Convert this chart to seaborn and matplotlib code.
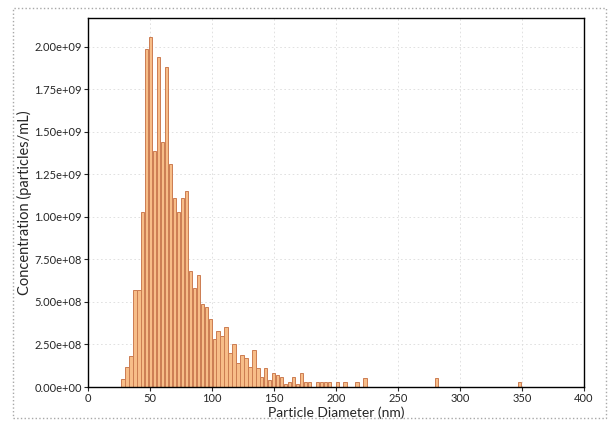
import numpy as np
import pandas as pd
import matplotlib
matplotlib.use("Agg")
import matplotlib.pyplot as plt
import seaborn as sns
from matplotlib.ticker import FuncFormatter, MultipleLocator
from matplotlib.patches import Rectangle

# concentration per size bin, in units of 1e9 particles/mL
conc_e9 = [
    0.05, 0.12, 0.18, 0.57, 0.57, 1.03, 1.99, 2.06, 1.39, 1.94,
    1.44, 1.88, 1.31, 1.11, 1.03, 1.11, 1.15, 0.68, 0.58, 0.66,
    0.49, 0.47, 0.40, 0.28, 0.33, 0.30, 0.35, 0.20, 0.25, 0.14,
    0.19, 0.17, 0.12, 0.22, 0.11, 0.06, 0.11, 0.04, 0.08, 0.07,
    0.06, 0.02, 0.03, 0.06, 0.02, 0.085, 0.03, 0.03, 0.0, 0.03,
    0.03, 0.03, 0.03, 0.0, 0.03, 0.0, 0.03, 0.0, 0.0, 0.03,
    0.0, 0.055, 0.0, 0.0, 0.0, 0.0, 0.0, 0.0, 0.0, 0.0,
    0.0, 0.0, 0.0, 0.0, 0.0, 0.0, 0.0, 0.0, 0.0, 0.055,
    0.0, 0.0, 0.0, 0.0, 0.0, 0.0, 0.0, 0.0, 0.0, 0.0,
    0.0, 0.0, 0.0, 0.0, 0.0, 0.0, 0.0, 0.0, 0.0, 0.0,
    0.03,
]
bin_start = 26.6   # nm
bin_width = 3.2    # nm
x_ticks = [0, 50, 100, 150, 200, 250, 300, 350, 400]

df = pd.DataFrame({
    "diameter": bin_start + bin_width * (np.arange(len(conc_e9)) + 0.5),
    "conc": np.array(conc_e9) * 1e9,
})

sns.set_style("ticks")
plt.rcParams['font.family'] = ['Lato', 'DejaVu Sans']

fig = plt.figure(figsize=(6.14, 4.23), dpi=100)
ax = fig.add_axes([0.1433, 0.0851, 0.8077, 0.8723])

sns.histplot(data=df, x="diameter", weights="conc", binwidth=bin_width,
             binrange=(bin_start, bin_start + bin_width * len(conc_e9)),
             shrink=0.85, color="#f7bd88", alpha=1, edgecolor="#cc7d52",
             linewidth=0.7, ax=ax)

ax.set_xlim(0, 400)
ax.set_ylim(0, 2.17e9)
ax.set_xticks(x_ticks)
ax.yaxis.set_major_locator(MultipleLocator(0.25e9))
ax.yaxis.set_major_formatter(FuncFormatter(lambda v, p: f"{v:.2e}"))
ax.grid(True, color="#dcdcdc", linestyle=(0, (2, 3)), linewidth=0.6)
ax.set_axisbelow(True)
for s in ax.spines.values():
    s.set_visible(True)
    s.set_color("black")
    s.set_linewidth(1.0)
ax.tick_params(direction="out", length=3, width=0.8, labelsize=8, pad=1.5)
ax.set_xlabel("Particle Diameter (nm)", fontsize=10)
ax.set_ylabel("Concentration (particles/mL)", fontsize=10.5)
ax.xaxis.set_label_coords(0.5, -0.052)
ax.yaxis.set_label_coords(-0.112, 0.5)

fig.patches.append(Rectangle((0.021, 0.012), 0.966, 0.969, transform=fig.transFigure,
                             fill=False, ec="#a8a8a8", ls=":", lw=1.0))

fig.savefig("out.png", dpi=100)
